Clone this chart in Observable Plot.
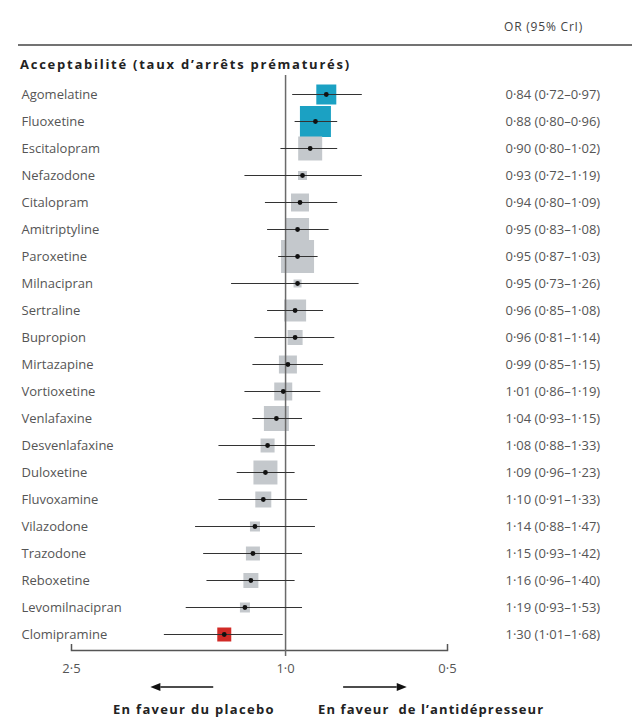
<!DOCTYPE html>
<html><head><meta charset="utf-8">
<script src="https://cdn.jsdelivr.net/npm/d3@7"></script>
<script src="https://cdn.jsdelivr.net/npm/@observablehq/plot@0.6"></script>
<style>body{margin:0;background:#fff} #chart svg{display:block}</style>
</head><body><div id="chart"></div>
<script>
const drugs = ["Agomelatine","Fluoxetine","Escitalopram","Nefazodone","Citalopram","Amitriptyline","Paroxetine","Milnacipran","Sertraline","Bupropion","Mirtazapine","Vortioxetine","Venlafaxine","Desvenlafaxine","Duloxetine","Fluvoxamine","Vilazodone","Trazodone","Reboxetine","Levomilnacipran","Clomipramine"];
const oddsRatio = [0.84,0.88,0.90,0.93,0.94,0.95,0.95,0.95,0.96,0.96,0.99,1.01,1.04,1.08,1.09,1.10,1.14,1.15,1.16,1.19,1.30];
const lower = [0.72,0.80,0.80,0.72,0.80,0.83,0.87,0.73,0.85,0.81,0.85,0.86,0.93,0.88,0.96,0.91,0.88,0.93,0.96,0.93,1.01];
const upper = [0.97,0.96,1.02,1.19,1.09,1.08,1.03,1.26,1.08,1.14,1.15,1.19,1.15,1.33,1.23,1.33,1.47,1.42,1.40,1.53,1.68];
const weight = [20,31,24,9,18,23,33,8,22,15,18,18,25,14,24,16,10,14,15,10,14];
const xTicks = [2.5, 1.0, 0.5];
const endTicks = [2.5, 0.5];
const headerText = "OR (95% CrI)";
const titleText = "Acceptabilité (taux d’arrêts prématurés)";
const leftNote = "En faveur du placebo";
const rightNote = "En faveur  de l’antidépresseur";
const arrowLeft = [1.36, 1.78];
const arrowRight = [0.78, 0.594];

const fmt = v => v.toFixed(2).replace(".", "·");
const rows = drugs.map((d, i) => ({
  drug: d, or: oddsRatio[i], lo: lower[i], hi: upper[i], w: weight[i],
  label: `${fmt(oddsRatio[i])} (${fmt(lower[i])}–${fmt(upper[i])})`,
  group: upper[i] < 1 ? "better" : lower[i] > 1 ? "worse" : "ns"
}));

const font = "'Open Sans', sans-serif";
const maxW = d3.max(weight);
const plot = Plot.plot({
  width: 632, height: 720,
  marginLeft: 71, marginRight: 185, marginTop: 75, marginBottom: 70,
  style: {fontFamily: font, background: "#fff"},
  x: {type: "log", domain: [2.5, 0.5], axis: null},
  y: {type: "point", domain: drugs, range: [91, 636], padding: 0, axis: null},
  r: {type: "linear", domain: [0, maxW], range: [0, maxW / Math.sqrt(Math.PI)]},
  color: {domain: ["better", "ns", "worse"], range: ["#1ba1c3", "#c4c8cc", "#d12a26"]},
  marks: [
    Plot.frame({anchor: "bottom", stroke: "#555", strokeWidth: 1.5}),
    Plot.axisX({ticks: endTicks, tickSize: 6, dy: -6, tickFormat: () => "", stroke: "#555", strokeWidth: 1.5}),
    Plot.axisX({ticks: xTicks, tickSize: 0, tickPadding: 13, tickFormat: v => v.toFixed(1).replace(".", "·"), fontSize: 13, fill: "#555", ariaLabel: "xlabels"}),
    Plot.dot(rows, {x: "or", y: "drug", r: "w", symbol: "square", fill: "group"}),
    Plot.ruleX([1], {stroke: "#6a6a6a", strokeWidth: 1.5, insetBottom: -6}),
    Plot.ruleY(rows, {x1: "lo", x2: "hi", y: "drug", stroke: "#333", strokeWidth: 1.2}),
    Plot.dot(rows, {x: "or", y: "drug", r: 2.4, fill: "#111"}),
    Plot.text(rows, {y: "drug", text: "drug", frameAnchor: "left", dx: -50, textAnchor: "start", fontSize: 13, fill: "#555", ariaLabel: "names"}),
    Plot.text(rows, {y: "drug", text: "label", frameAnchor: "right", dx: 58, textAnchor: "start", fontSize: 13, fill: "#555", ariaLabel: "orlabels"})
  ]
});
document.getElementById("chart").append(plot);

const svg = d3.select(plot);
svg.select('g[aria-label="names"]').attr("letter-spacing", "0.45px");
svg.select('g[aria-label="orlabels"]').attr("letter-spacing", "1.6px");
svg.select('g[aria-label="xlabels"]').attr("letter-spacing", "1px");
const xs = plot.scale("x");
svg.append("line").attr("x1", 18).attr("x2", 632).attr("y1", 45).attr("y2", 45)
  .attr("stroke", "#444").attr("stroke-width", 1.5);
svg.append("text").attr("x", 504).attr("y", 28).attr("dominant-baseline", "middle").attr("text-anchor", "start")
  .attr("font-size", 12).attr("letter-spacing", "0.8px").attr("fill", "#444").attr("font-family", font).text(headerText);
svg.append("text").attr("x", 20).attr("y", 66).attr("dominant-baseline", "middle").attr("text-anchor", "start")
  .attr("font-size", 13).attr("letter-spacing", "1.75px").attr("font-weight", "bold").attr("fill", "#222").attr("font-family", font).text(titleText);

function arrow(v0, v1, y) {
  const a = xs.apply(v0), b = xs.apply(v1);
  const dir = Math.sign(b - a);
  const hl = 10, hw = 4;
  svg.append("line").attr("x1", a).attr("x2", b - dir * hl).attr("y1", y).attr("y2", y)
    .attr("stroke", "#111").attr("stroke-width", 1.5);
  svg.append("path").attr("d", `M${b},${y}L${b - dir * hl},${y - hw}L${b - dir * hl},${y + hw}Z`).attr("fill", "#111");
}
arrow(arrowLeft[0], arrowLeft[1], 687);
arrow(arrowRight[0], arrowRight[1], 687);
svg.append("text").attr("x", 113).attr("y", 711).attr("text-anchor", "start")
  .attr("dominant-baseline", "middle").attr("font-size", 13).attr("letter-spacing", "1.3px").attr("font-weight", "bold")
  .attr("fill", "#222").attr("font-family", font).text(leftNote);
svg.append("text").attr("x", 318).attr("y", 711).attr("text-anchor", "start")
  .attr("dominant-baseline", "middle").attr("font-size", 13).attr("letter-spacing", "1.1px").attr("font-weight", "bold")
  .attr("fill", "#222").attr("font-family", font).style("white-space", "pre").text(rightNote);
</script>
</body></html>
